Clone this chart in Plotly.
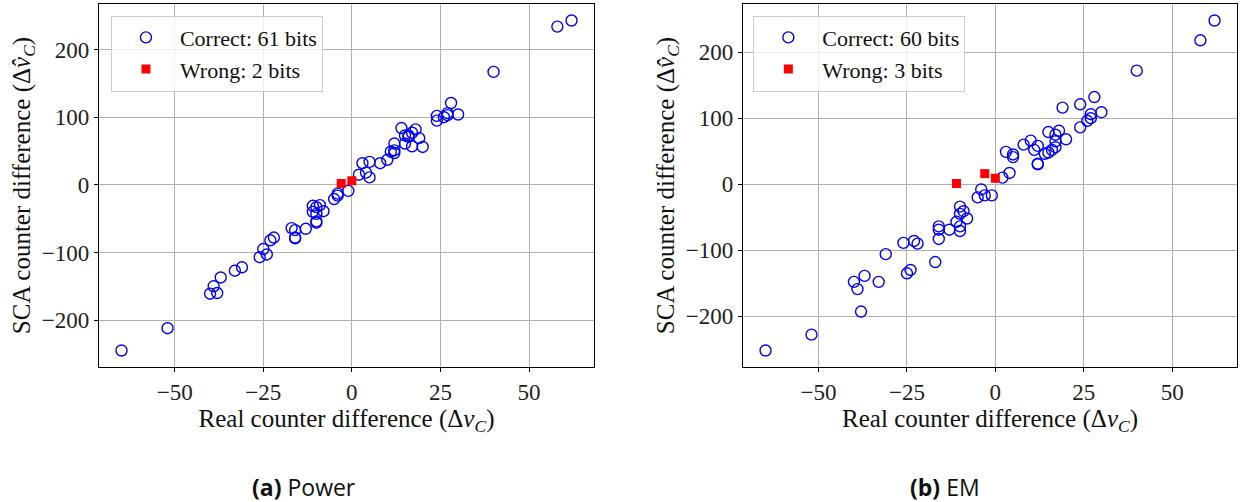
import plotly.graph_objects as go

# ---- (a) Power: real vs. SCA-recovered counter differences ----
power_ok_x = [58, 62, 40, 28, 24, 24, 27, 27, 26, 30,
              14, 15, 16, 17, 18, 16, 19, 20, 17, 15, 12, 12, 11, 12, 10, 8, 5, 3, 4, 2, 5,
              -1, -4, -4, -5, -11, -10, -9, -11, -10, -8, -10, -10, -13, -17, -16, -16, -16,
              -22, -23, -25, -24, -26, -31, -33, -37, -39, -40, -38, -52, -65]
power_ok_y = [234, 243, 167, 121, 102, 95, 103, 106, 100, 104,
              84, 73, 73, 77, 82, 71, 69, 56, 57, 61, 61, 51, 49, 47, 37, 32, 34, 32, 18, 15, 11,
              -9, -13, -16, -21, -31, -33, -30, -40, -43, -39, -54, -56, -65, -64, -67, -78, -79,
              -78, -82, -95, -103, -107, -122, -127, -137, -150, -161, -160, -212, -245]
power_bad_x = [-3, 0]
power_bad_y = [2, 6]

# ---- (b) EM ----
em_ok_x = [62, 58, 40, 28, 24, 19, 30, 27, 27, 26, 24, 15, 18, 17, 20, 17, 10, 8, 12, 11,
           17, 16, 15, 14, 3, 5, 5, 12, 12, 4, 2,
           -4, -5, -3, -1, -10, -9, -10, -8, -11, -10, -10, -13, -16, -16, -16, -17,
           -23, -22, -26, -31, -24, -25, -33, -37, -40, -39, -38, -52, -65]
em_ok_y = [248, 218, 172, 132, 121, 116, 109, 106, 100, 96, 86, 79, 81, 75, 68, 65, 66, 60, 58, 52,
           56, 52, 48, 46, 49, 45, 41, 31, 30, 17, 10,
           -8, -20, -17, -17, -34, -41, -45, -52, -57, -64, -71, -69, -64, -69, -83, -118,
           -86, -90, -89, -106, -130, -135, -148, -139, -148, -159, -193, -228, -252]
em_bad_x = [-3, 0, -11]
em_bad_y = [16, 9, 1]

x_ticks = [-50, -25, 0, 25, 50]
y_ticks = [-200, -100, 0, 100, 200]

BLUE = "#0000ff"
RED = "#ff0000"
SERIF = "Liberation Serif, DejaVu Serif, serif"


def padded(*seqs, frac=0.05):
    lo = min(min(s) for s in seqs)
    hi = max(max(s) for s in seqs)
    span = hi - lo
    return [lo - frac * span, hi + frac * span]


fig = go.Figure()

panels = [
    ("x", "y", "legend", power_ok_x, power_ok_y, power_bad_x, power_bad_y),
    ("x2", "y2", "legend2", em_ok_x, em_ok_y, em_bad_x, em_bad_y),
]
for xa, ya, lg, ox, oy, bx, by in panels:
    fig.add_trace(go.Scatter(
        x=ox, y=oy, mode="markers", xaxis=xa, yaxis=ya, legend=lg,
        name=f"Correct: {len(ox)} bits",
        marker=dict(symbol="circle-open", size=11, color=BLUE, line=dict(width=1.4, color=BLUE)),
    ))
    fig.add_trace(go.Scatter(
        x=bx, y=by, mode="markers", xaxis=xa, yaxis=ya, legend=lg,
        name=f"Wrong: {len(bx)} bits",
        marker=dict(symbol="square", size=9, color=RED),
    ))

axis_common = dict(
    showline=True, mirror=True, linecolor="black", linewidth=1.3,
    showgrid=True, gridcolor="#b0b0b0", gridwidth=1,
    zeroline=False, ticks="outside", ticklen=4, tickwidth=1, tickcolor="black",
    tickfont=dict(family=SERIF, size=23, color="#222"),
    title_font=dict(family=SERIF, size=25, color="#111"),
)

xtitle = "Real counter difference (Δ<i>v</i><sub><i>C</i></sub>)"
ytitle = "SCA counter difference (Δ<i>v̂</i><sub><i>C</i></sub>)"

legend_common = dict(
    xanchor="left", yanchor="top",
    bgcolor="rgba(255,255,255,0.8)", bordercolor="#cccccc", borderwidth=1,
    font=dict(family=SERIF, size=22, color="#111"), itemwidth=58,
    tracegroupgap=0,
)

fig.update_layout(
    width=1242, height=502,
    margin=dict(l=99, r=5, t=4, b=135),
    paper_bgcolor="white", plot_bgcolor="white",
    xaxis=dict(domain=[0, 0.435], anchor="y", range=padded(power_ok_x, power_bad_x),
               tickvals=x_ticks, title=dict(text=xtitle, standoff=4), **axis_common),
    yaxis=dict(domain=[0, 1], anchor="x", range=padded(power_ok_y, power_bad_y),
               tickvals=y_ticks, title=dict(text=ytitle, standoff=4), **axis_common),
    xaxis2=dict(domain=[0.566, 1], anchor="y2", range=padded(em_ok_x, em_bad_x),
                tickvals=x_ticks, title=dict(text=xtitle, standoff=4), **axis_common),
    yaxis2=dict(domain=[0, 1], anchor="x2", range=padded(em_ok_y, em_bad_y),
                tickvals=y_ticks, title=dict(text=ytitle, standoff=4), **axis_common),
    legend=dict(x=0.0105, y=0.968, **legend_common),
    legend2=dict(x=0.575, y=0.968, **legend_common),
    showlegend=True,
)

captions = [("<b>(a)</b> Power", 0.180), ("<b>(b)</b> EM", 0.743)]
for text, xpos in captions:
    fig.add_annotation(text=text, xref="paper", yref="paper", x=xpos, y=-0.33,
                       xanchor="center", yanchor="middle", showarrow=False,
                       font=dict(family="Open Sans", size=23, color="#111"))

fig.write_html("out.html")
